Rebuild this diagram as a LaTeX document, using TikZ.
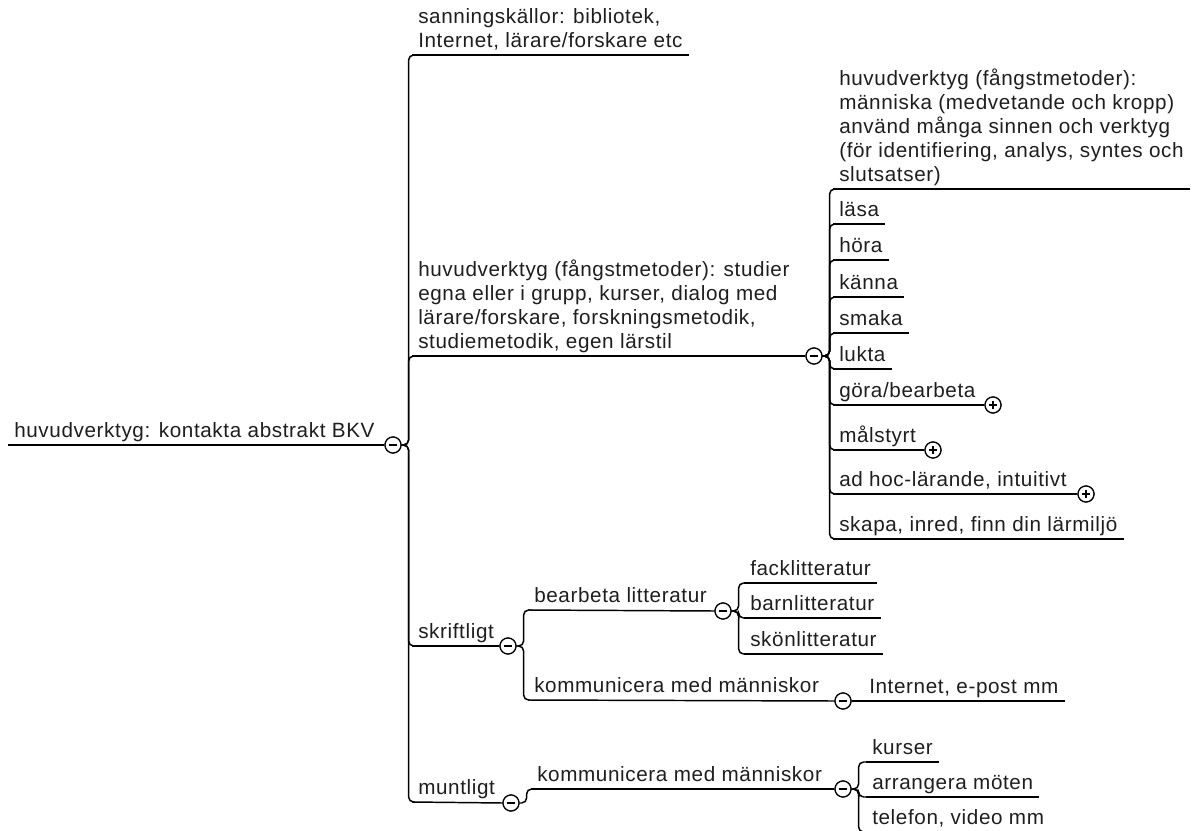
\documentclass[tikz,border=0pt]{standalone}
\usepackage{fontspec}
\setmainfont{Liberation Sans}[LetterSpace=3]
\definecolor{ink}{RGB}{30,30,30}
\begin{document}
\begin{tikzpicture}[x=0.75pt,y=-0.75pt,
  topic/.style={anchor=south west, align=left, inner xsep=4.5pt, inner ysep=0pt,
    font=\fontsize{15.5pt}{18pt}\selectfont, text=ink,
    execute at end node={\strut}},
  uline/.style={line width=1.1pt},
  edge/.style={line width=1.1pt, rounded corners=3.75pt},
  fold/.style={circle, draw, line width=0.9pt, fill=white, minimum size=12pt, inner sep=0pt},
  minus/.style={fold, path picture={
    \draw[line width=0.9pt] ([xshift=-3pt]path picture bounding box.center) -- ([xshift=3pt]path picture bounding box.center);}},
  plus/.style={fold, path picture={
    \draw[line width=0.9pt] ([xshift=-3pt]path picture bounding box.center) -- ([xshift=3pt]path picture bounding box.center)
      ([yshift=-3pt]path picture bounding box.center) -- ([yshift=3pt]path picture bounding box.center);}},
]
\useasboundingbox (0,0) rectangle (1200,831);
\clip (0,0) rectangle (1200,831);

% ---- root ----
\node[topic] (root) at (8,445) {huvudverktyg: kontakta abstrakt BKV};

% ---- first level ----
\node[topic] (src) at (412,55) {sanningskällor: bibliotek,\\Internet, lärare/forskare etc};
\node[topic] (stud) at (412,356) {huvudverktyg (fångstmetoder): studier\\egna eller i grupp, kurser, dialog med\\lärare/forskare, forskningsmetodik,\\studiemetodik, egen lärstil};
\node[topic] (skr) at (412,646) {skriftligt};
\node[topic] (munt) at (412,802) {muntligt};

% ---- methods ----
\node[topic] (man) at (833,189) {huvudverktyg (fångstmetoder):\\människa (medvetande och kropp)\\använd många sinnen och verktyg\\(för identifiering, analys, syntes och\\slutsatser)};
\node[topic] (lasa) at (833,224) {läsa};
\node[topic] (hora) at (833,260) {höra};
\node[topic] (kanna) at (833,297) {känna};
\node[topic] (smaka) at (833,333) {smaka};
\node[topic] (lukta) at (833,369) {lukta};
\node[topic] (gora) at (833,405) {göra/bearbeta};
\node[topic] (mal) at (833,450) {målstyrt};
\node[topic] (adhoc) at (833,494) {ad hoc-lärande, intuitivt};
\node[topic] (skapa) at (833,539) {skapa, inred, finn din lärmiljö};

% ---- written ----
\node[topic] (bearb) at (528,610) {bearbeta litteratur};
\node[topic] (fack) at (744,583) {facklitteratur};
\node[topic] (barn) at (744,618) {barnlitteratur};
\node[topic] (skon) at (744,654) {skönlitteratur};
\node[topic] (komm1) at (528,700) {kommunicera med människor};
\node[topic] (inet) at (863,701) {Internet, e-post mm};

% ---- spoken ----
\node[topic] (komm2) at (531,789) {kommunicera med människor};
\node[topic] (kurs) at (866,762) {kurser};
\node[topic] (arr) at (866,797) {arrangera möten};
\node[topic] (tel) at (866,832) {telefon, video mm};

% ---- fold markers ----
\node[minus] (c0) at (393,445) {};
\node[minus] (c2) at (814,356) {};
\node[minus] (c3) at (508,646) {};
\node[minus] (c4) at (511,803) {};
\node[plus]  (cg) at (993,405) {};
\node[plus]  (cm) at (933,450) {};
\node[plus]  (ca) at (1086,494) {};
\node[minus] (cb) at (723,611) {};
\node[minus] (ck1) at (843,701) {};
\node[minus] (ck2) at (843,789) {};

% ---- connectors ----
\foreach \c/\n in {c0/src, c0/stud, c0/skr, c0/munt,
                   c2/man, c2/lasa, c2/hora, c2/kanna, c2/smaka, c2/lukta,
                   c2/gora, c2/mal, c2/adhoc, c2/skapa,
                   c3/bearb, c3/komm1, cb/fack, cb/barn, cb/skon,
                   c4/komm2, ck2/kurs, ck2/arr, ck2/tel}
  \draw[edge] (\c.east) -- ++(7,0) |- (\n.south west);
\draw[uline] (ck1.east) -- (inet.south west);

% ---- underlines ----
\foreach \n/\c in {root/c0, stud/c2, skr/c3, munt/c4, gora/cg, mal/cm, adhoc/ca,
                   bearb/cb, komm1/ck1, komm2/ck2}
  \draw[uline] (\n.south west) -- (\c.west);
\foreach \n in {src, man, lasa, hora, kanna, smaka, lukta, skapa,
                fack, barn, skon, inet, kurs, arr, tel}
  \draw[uline] (\n.south west) -- (\n.south east);

% redraw the fold markers above the line ends
\node[minus] at (c0) {};
\node[minus] at (c2) {};
\node[minus] at (c3) {};
\node[minus] at (c4) {};
\node[minus] at (cb) {};
\node[minus] at (ck1) {};
\node[minus] at (ck2) {};
\node[plus] at (cg) {};
\node[plus] at (cm) {};
\node[plus] at (ca) {};
\end{tikzpicture}
\end{document}
